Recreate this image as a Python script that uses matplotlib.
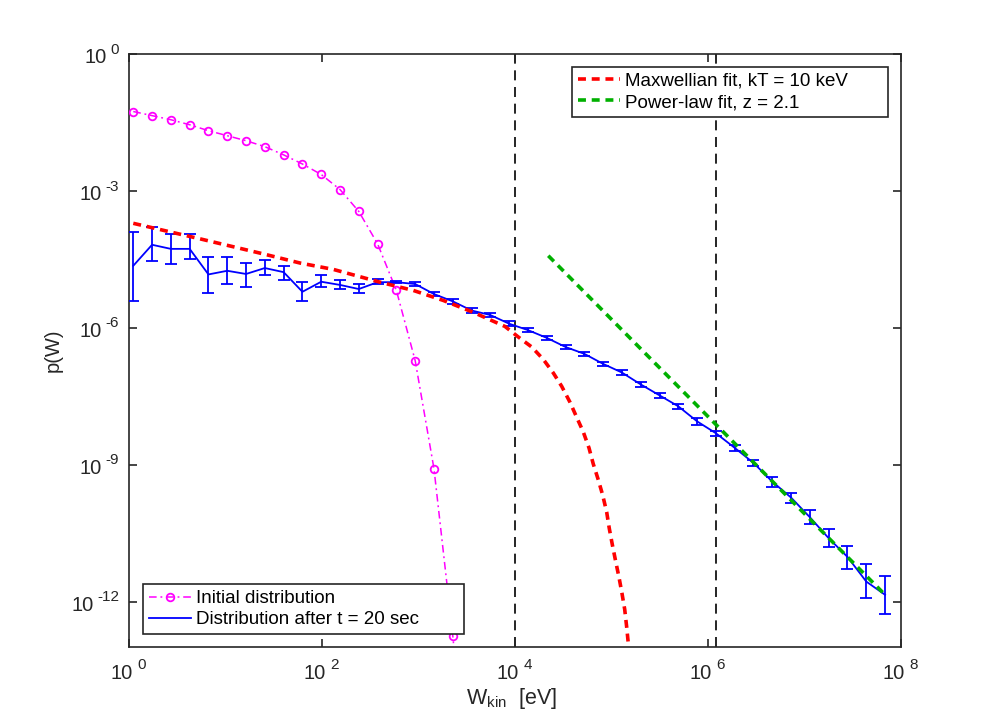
#!/usr/bin/env python3
"""Energy distribution: initial vs after 20 s, with Maxwellian and power-law fits."""

import matplotlib
matplotlib.use("Agg")
import matplotlib.pyplot as plt
import numpy as np
from matplotlib.ticker import FixedLocator, NullLocator

plt.rcParams["font.family"] = ["Liberation Sans", "DejaVu Sans"]
plt.rcParams["mathtext.fontset"] = "custom"
plt.rcParams["mathtext.rm"] = "Liberation Sans"
plt.rcParams["mathtext.it"] = "Liberation Sans:italic"

AX_COLOR = "#262626"

# energy bins [eV], shared by both distributions
w_kin = [1.108, 1.735, 2.716, 4.254, 6.661, 10.43, 16.33, 25.57, 40.05, 62.71,
         98.2, 153.8, 240.7, 377.0, 590.3, 924.5, 1448, 2267, 3550, 5559,
         8705, 1.363e4, 2.134e4, 3.342e4, 5.233e4, 8.195e4, 1.283e5, 2.009e5, 3.147e5, 4.927e5,
         7.716e5, 1.208e6, 1.892e6, 2.962e6, 4.638e6, 7.263e6, 1.137e7, 1.781e7, 2.789e7, 4.367e7,
         6.838e7]

# initial distribution, log10 p(W) (first 19 bins, rest is far below the axis)
init_log = [-1.26, -1.35, -1.44, -1.55, -1.68, -1.79, -1.90, -2.03, -2.21, -2.41,
            -2.64, -2.97, -3.45, -4.16, -5.18, -6.72, -9.09, -12.75, -17.0]

# distribution after t = 20 s, log10 p(W) and error bar bounds
after_log = [-4.64, -4.18, -4.27, -4.27, -4.83, -4.75, -4.82, -4.69, -4.78, -5.21,
             -4.99, -5.06, -5.15, -5.00, -5.00, -5.04, -5.26, -5.42, -5.62, -5.72,
             -5.91, -6.05, -6.22, -6.42, -6.57, -6.79, -6.98, -7.24, -7.48, -7.72,
             -8.05, -8.31, -8.63, -8.96, -9.37, -9.72, -10.15, -10.61, -11.02, -11.56,
             -11.85]
after_hi_log = [-3.90, -3.78, -3.94, -3.94, -4.45, -4.44, -4.58, -4.51, -4.64, -5.00,
                -4.85, -4.95, -5.05, -4.93, -4.97, -4.99, -5.21, -5.37, -5.57, -5.67,
                -5.86, -6.00, -6.17, -6.37, -6.52, -6.74, -6.93, -7.19, -7.43, -7.67,
                -7.98, -8.25, -8.56, -8.90, -9.26, -9.61, -10.00, -10.41, -10.77, -11.18,
                -11.44]
after_lo_log = [-5.42, -4.54, -4.61, -4.50, -5.24, -5.04, -5.10, -4.85, -4.95, -5.42,
                -5.10, -5.16, -5.24, -5.05, -5.01, -5.09, -5.31, -5.47, -5.67, -5.77,
                -5.96, -6.10, -6.27, -6.47, -6.62, -6.84, -7.03, -7.29, -7.53, -7.77,
                -8.12, -8.36, -8.70, -9.02, -9.48, -9.83, -10.30, -10.81, -11.28, -11.93,
                -12.27]

# Maxwellian fit (kT = 10 keV)
maxw_w = [1.108, 5.447, 24.65, 59.19, 131.1, 399.4, 882.5, 1807, 3700, 7880,
          1.081e4, 1.491e4, 1.963e4, 2.497e4, 3.046e4, 3.715e4, 4.358e4, 5.099e4, 5.845e4, 6.469e4,
          7.297e4, 8.116e4, 8.920e4, 9.496e4, 1.020e5, 1.106e5, 1.197e5, 1.285e5, 1.371e5, 1.436e5,
          1.494e5]
maxw_log = [-3.71, -4.05, -4.38, -4.58, -4.72, -5.00, -5.18, -5.40, -5.66, -5.97,
            -6.20, -6.42, -6.69, -6.99, -7.28, -7.63, -7.96, -8.28, -8.63, -8.98,
            -9.33, -9.67, -10.04, -10.40, -10.75, -11.12, -11.47, -11.82, -12.17, -12.55,
            -12.92]

# power-law fit, z = 2.1
power_w = [2.213e4, 6.838e7]
power_log = [-4.42, -11.85]

# dashed markers for the fit range
vlines_w = [1e4, 1.208e6]

# axis ticks (decade exponents)
xtick_exp = [0, 2, 4, 6, 8]
ytick_exp = [-12, -9, -6, -3, 0]

fig = plt.figure(figsize=(9.96, 7.28), dpi=100)
ax = fig.add_axes([0.1295, 0.1109, 0.7751, 0.8149])

w = np.array(w_kin)
y_after = 10 ** np.array(after_log)
err = [y_after - 10 ** np.array(after_lo_log), 10 ** np.array(after_hi_log) - y_after]

for xv in vlines_w:
    ax.axvline(xv, color="k", lw=1.2, ls=(0, (6, 4)), zorder=1)

l_init, = ax.plot(w[:len(init_log)], 10 ** np.array(init_log), color="#FF00FF",
                  ls=(0, (5, 2.5, 1.2, 2.5)), lw=1.1, marker="o", ms=5.5,
                  mfc="none", mew=1.3, label="Initial distribution", zorder=3)
ax.errorbar(w, y_after, yerr=err, fmt="none", ecolor="#0000FF", elinewidth=1.3,
            capsize=4, capthick=1.3, zorder=3)
l_after, = ax.plot(w, y_after, color="#0000FF", lw=1.3,
                   label="Distribution after t = 20 sec", zorder=3)
l_maxw, = ax.plot(maxw_w, 10 ** np.array(maxw_log), color="#FF0000", lw=2.6,
                  ls=(0, (2.2, 1.6)), label="Maxwellian fit, kT = 10 keV", zorder=4)
l_pow, = ax.plot(power_w, 10 ** np.array(power_log), color="#00B000", lw=2.6,
                 ls=(0, (2.2, 1.6)), label="Power-law fit, z = 2.1", zorder=4)

ax.set_xscale("log")
ax.set_yscale("log")
ax.set_xlim(1, 1e8)
ax.set_ylim(1e-13, 1)

ax.xaxis.set_major_locator(FixedLocator([10.0 ** e for e in xtick_exp]))
ax.yaxis.set_major_locator(FixedLocator([10.0 ** e for e in ytick_exp]))
ax.xaxis.set_minor_locator(NullLocator())
ax.yaxis.set_minor_locator(NullLocator())

ax.tick_params(which="both", direction="in", top=True, right=True, length=5.7,
               width=1.2, color=AX_COLOR, labelbottom=False, labelleft=False)
for sp in ax.spines.values():
    sp.set_color(AX_COLOR)
    sp.set_linewidth(1.2)

# MATLAB-style "10" + raised exponent tick labels
BASE_FS, SUP_FS = 14.5, 11
for e in xtick_exp:
    ax.annotate("10", xy=(10.0 ** e, 0), xycoords=("data", "axes fraction"),
                xytext=(2.4, -23), textcoords="offset points", ha="right",
                va="baseline", fontsize=BASE_FS, color=AX_COLOR, annotation_clip=False)
    ax.annotate(str(e), xy=(10.0 ** e, 0), xycoords=("data", "axes fraction"),
                xytext=(6, -15.8), textcoords="offset points", ha="left",
                va="baseline", fontsize=SUP_FS, color=AX_COLOR, annotation_clip=False)
for e in ytick_exp:
    sup = ax.annotate(str(e), xy=(0, 10.0 ** e), xycoords=("axes fraction", "data"),
                      xytext=(-7.2, 0.3), textcoords="offset points", ha="right",
                      va="baseline", fontsize=SUP_FS, color=AX_COLOR, annotation_clip=False)
    ax.annotate("10", xy=(0, 0), xycoords=sup, xytext=(-2.6, -4.9),
                textcoords="offset points", ha="right", va="baseline",
                fontsize=BASE_FS, color=AX_COLOR, annotation_clip=False)

ax.set_xlabel(r"W$_{\mathregular{kin}}$  [eV]", fontsize=15.5, color=AX_COLOR)
ax.xaxis.set_label_coords(0.495, -0.066)
ax.set_ylabel("p(W)", fontsize=14.5, color=AX_COLOR)
ax.yaxis.set_label_coords(-0.086, 0.5)

leg_kw = dict(fontsize=13.5, frameon=True, fancybox=False, framealpha=1,
              edgecolor=AX_COLOR, borderaxespad=0, handlelength=2.25,
              handletextpad=0.3, borderpad=0.3, labelspacing=0.22,
              mode="expand", bbox_transform=fig.transFigure)
leg1 = ax.legend(handles=[l_maxw, l_pow], loc="upper left",
                 bbox_to_anchor=(572 / 996, 1 - 118 / 728, 316 / 996, 51 / 728), **leg_kw)
ax.add_artist(leg1)
leg2 = ax.legend(handles=[l_init, l_after], loc="lower left",
                 bbox_to_anchor=(143 / 996, 1 - 634 / 728, 321 / 996, 50 / 728), **leg_kw)
for lg in (leg1, leg2):
    lg.get_frame().set_linewidth(1.2)
    lg.set_zorder(10)
    for t in lg.get_texts():
        t.set_color("k")

fig.savefig("out.png", dpi=100, facecolor="white")
